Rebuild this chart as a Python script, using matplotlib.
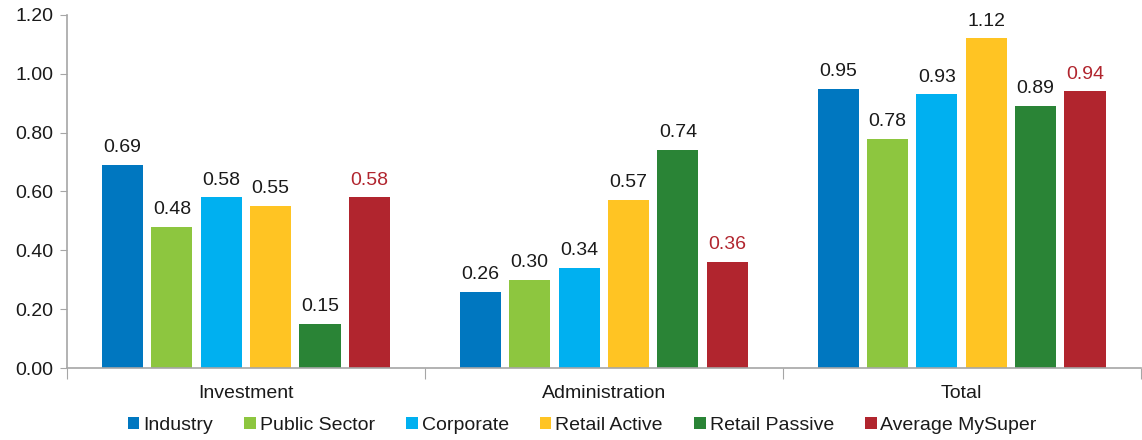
import numpy as np
import matplotlib
matplotlib.use('Agg')
import matplotlib.pyplot as plt

plt.rcParams['font.family'] = ['Liberation Sans', 'DejaVu Sans']

# data
groups = ['Investment', 'Administration', 'Total']
series = ['Industry', 'Public Sector', 'Corporate', 'Retail Active',
          'Retail Passive', 'Average MySuper']
industry = [0.69, 0.26, 0.95]
public_sector = [0.48, 0.30, 0.78]
corporate = [0.58, 0.34, 0.93]
retail_active = [0.55, 0.57, 1.12]
retail_passive = [0.15, 0.74, 0.89]
average_mysuper = [0.58, 0.36, 0.94]
yticks = [0.0, 0.2, 0.4, 0.6, 0.8, 1.0, 1.2]

values = [industry, public_sector, corporate, retail_active,
          retail_passive, average_mysuper]
colors = ['#0077C0', '#8DC63F', '#00B0F0', '#FFC423', '#2A8436', '#B1252E']
label_colors = ['#1a1a1a'] * 5 + ['#B1252E']
fs = 14

fig = plt.figure(figsize=(11.42, 4.4), dpi=100)
ax = fig.add_axes([0.0587, 0.1636, 0.940, 0.8024])

x = np.arange(len(groups))
step = 0.138
width = 0.115
for i, (name, vals) in enumerate(zip(series, values)):
    pos = x + (i - 2.5) * step
    bars = ax.bar(pos, vals, width=width, color=colors[i], label=name)
    for b, v in zip(bars, vals):
        ax.text(b.get_x() + b.get_width() / 2, v + 0.03, f'{v:.2f}',
                ha='center', va='bottom', fontsize=fs, color=label_colors[i])

ax.set_xlim(-0.5, 2.5)
ax.set_ylim(0, 1.2)
ax.set_yticks(yticks)
ax.set_yticklabels([f'{t:.2f}' for t in yticks], fontsize=fs, color='#1a1a1a')

# group boundaries as tick marks, group names as minor labels
ax.set_xticks([-0.5, 0.5, 1.5, 2.5])
ax.set_xticklabels([])
ax.set_xticks(x, minor=True)
ax.set_xticklabels(groups, minor=True, fontsize=fs, color='#1a1a1a')
ax.tick_params(axis='x', which='major', length=8, color='#A6A6A6')
ax.tick_params(axis='x', which='minor', length=0, pad=12)
ax.tick_params(axis='y', length=5, color='#A6A6A6', pad=5)

for side in ['top', 'right']:
    ax.spines[side].set_visible(False)
for side in ['left', 'bottom']:
    ax.spines[side].set_color('#A6A6A6')
    ax.spines[side].set_linewidth(1.2)

ax.legend(loc='center', bbox_to_anchor=(0.48, -0.162), ncol=6,
          frameon=False, fontsize=fs, handlelength=0.6, handleheight=0.6,
          handletextpad=0.2, columnspacing=1.6, labelcolor='#1a1a1a')

fig.savefig('out.png', dpi=100)
